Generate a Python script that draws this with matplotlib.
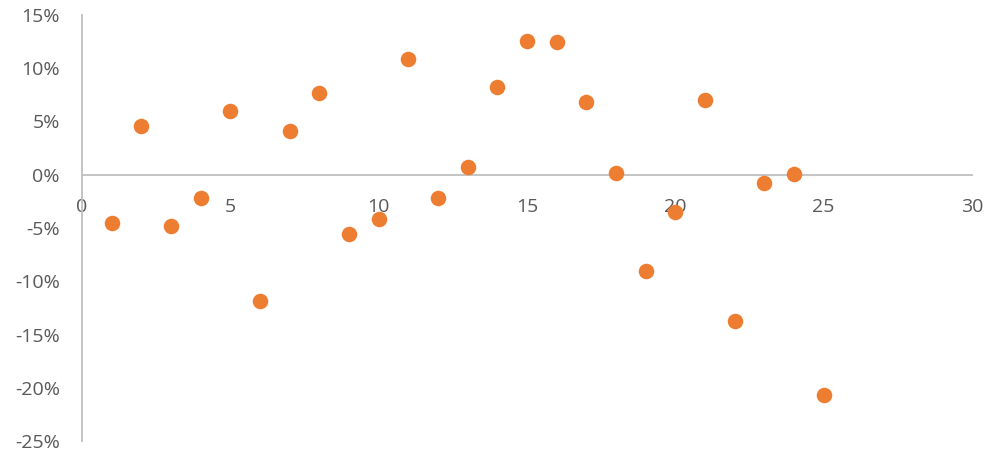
import matplotlib.pyplot as plt
from matplotlib.ticker import FuncFormatter

x = list(range(1, 26))
y = [-4.5, 4.6, -4.8, -2.2, 6.0, -11.9, 4.1, 7.7, -5.6, -4.2,
     10.9, -2.2, 0.7, 8.2, 12.6, 12.5, 6.8, 0.2, -9.0, -3.5,
     7.0, -13.7, -0.8, 0.1, -20.7]
xticks = [0, 5, 10, 15, 20, 25, 30]
yticks = [15, 10, 5, 0, -5, -10, -15, -20, -25]

plt.rcParams['font.family'] = ['Open Sans', 'DejaVu Sans']

fig = plt.figure(figsize=(9.89, 4.55), dpi=100)
ax = fig.add_axes([82 / 989, 1 - 441 / 455, (972 - 82) / 989, (441 - 15) / 455])

ax.scatter(x, y, s=125, color='#ED7D31', zorder=3, linewidths=0)

ax.set_xlim(0, 30)
ax.set_ylim(-25, 15)
ax.set_xticks(xticks)
ax.set_yticks(yticks)
ax.yaxis.set_major_formatter(FuncFormatter(lambda v, p: f'{v:.0f}%'))

for s in ['top', 'right']:
    ax.spines[s].set_visible(False)
ax.spines['left'].set_position(('data', 0))
ax.spines['bottom'].set_position(('data', 0))
ax.spines['left'].set_color('#BFBFBF')
ax.spines['bottom'].set_color('#BFBFBF')
ax.spines['left'].set_linewidth(1.3)
ax.spines['bottom'].set_linewidth(1.3)

ax.tick_params(axis='both', length=0, labelsize=14, colors='#595959')
ax.tick_params(axis='x', pad=17)
ax.tick_params(axis='y', pad=16)

fig.savefig('out.png', dpi=100)
